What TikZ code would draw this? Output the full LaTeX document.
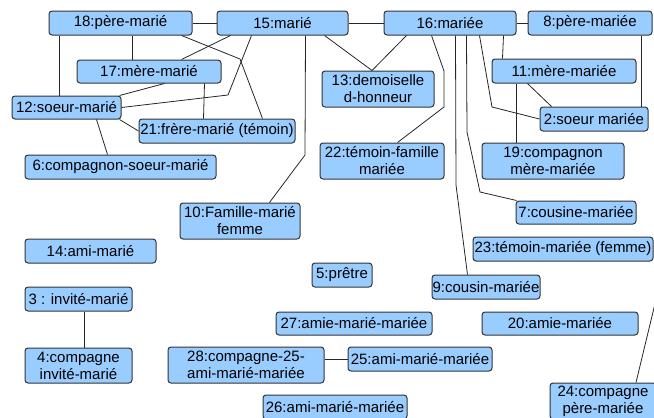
\documentclass[tikz,border=0pt]{standalone}
\usepackage{fontspec}
\setmainfont{Liberation Sans}
\definecolor{boxblue}{RGB}{153,204,255}

\begin{document}
\begin{tikzpicture}[x=1pt, y=-1pt,
    person/.style={rectangle, rounded corners=3pt, draw=black!80, line width=1pt,
      fill=boxblue, inner sep=0pt, align=center,
      font=\fontsize{15}{17}\selectfont, minimum height=24pt},
    tie/.style={draw=black!85, line width=0.8pt}]
  \useasboundingbox (0,0) rectangle (654,418);
  \clip (0,0) rectangle (654,418);

  % family of the groom
  \node[person, minimum width=143pt] (p18) at (120.5,23) {18:père-marié};
  \node[person, minimum width=131pt] (p15) at (282.5,23) {15:marié};
  \node[person, minimum width=144pt, minimum height=23pt] (p17) at (149,71.5) {17:mère-marié};
  \node[person, minimum width=109pt, minimum height=23pt] (p12) at (66.5,107.5) {12:soeur-marié};
  \node[person, minimum width=156pt] (p21) at (217,131) {21:frère-marié (témoin)};
  \node[person, minimum width=191pt] (p6) at (120.5,167) {6:compagnon-soeur-marié};
  \node[person, minimum width=120pt, minimum height=36pt] (p10) at (240,221) {10:Famille-marié\\femme};
  \node[person, minimum width=131pt] (p14) at (90.5,251) {14:ami-marié};
  \node[person, minimum width=107pt] (p3) at (78.5,299) {3 : invité-marié};
  \node[person, minimum width=107pt, minimum height=35pt] (p4) at (78.5,365.5) {4:compagne\\invité-marié};

  % family of the bride
  \node[person, minimum width=132pt] (p16) at (450,23) {16:mariée};
  \node[person, minimum width=124pt] (p8) at (590,23) {8:père-mariée};
  \node[person, minimum width=112pt, minimum height=36pt] (p13) at (378,89) {13:demoiselle\\d-honneur};
  \node[person, minimum width=144pt] (p11) at (564,71) {11:mère-mariée};
  \node[person, minimum width=108pt] (p2) at (594,119) {2:soeur mariée};
  \node[person, minimum width=124pt, minimum height=36pt] (p22) at (382,161) {22:témoin-famille\\mariée};
  \node[person, minimum width=142pt, minimum height=36pt] (p19) at (553,161) {19:compagnon\\mère-mariée};
  \node[person, minimum width=120pt, minimum height=23pt] (p7) at (576,212.5) {7:cousine-mariée};
  \node[person, minimum width=180pt] (p23) at (563,249) {23:témoin-mariée (femme)};
  \node[person, minimum width=108pt] (p9) at (486,287) {9:cousin-mariée};
  \node[person, minimum width=156pt, minimum height=23pt] (p20) at (560,323.5) {20:amie-mariée};
  \node[person, minimum width=106pt, minimum height=36pt] (p24) at (603,401) {24:compagne\\père-mariée};

  % friends
  \node[person, minimum width=60pt] (p5) at (342,275) {5:prêtre};
  \node[person, minimum width=156pt, minimum height=23pt] (p27) at (354,323.5) {27:amie-marié-mariée};
  \node[person, minimum width=156pt, minimum height=36pt] (p28) at (246,365) {28:compagne-25-\\ami-marié-mariée};
  \node[person, minimum width=144pt] (p25) at (420,359) {25:ami-marié-mariée};
  \node[person, minimum width=144pt] (p26) at (335,407) {26:ami-marié-mariée};

  \coordinate (offright) at (680,200);

  % links
  \draw[tie] (p18) -- (p15);
  \draw[tie] (p15) -- (p16);
  \draw[tie] (p16) -- (p8);
  \draw[tie] ([xshift=11pt]p18.south west) -- ([xshift=48pt]p12.north west);
  \draw[tie] ([xshift=84pt]p18.south west) -- ([xshift=56pt]p17.north west);
  \draw[tie] ([xshift=-11pt]p18.south east) -- (240,59) -- ([xshift=124pt]p21.north west);
  \draw[tie] ([xshift=14pt]p15.south west) -- ([xshift=-40pt]p17.north east);
  \draw[tie] ([xshift=35pt]p15.south west) -- (228,95) -- (p12.east);
  \draw[tie] ([xshift=88pt]p17.south west) -- ([xshift=-2pt]p12.north east);
  \draw[tie] ([xshift=-17pt]p17.south east) -- ([xshift=65pt]p21.north west);
  \draw[tie] ([xshift=-2pt]p12.south east) -- (p21.west);
  \draw[tie] ([xshift=85pt]p12.south west) -- ([xshift=83pt]p6.north west);
  \draw[tie] ([xshift=-43pt]p15.south east) -- (305,155) -- ([xshift=90pt]p10.north west);
  \draw[tie] ([xshift=-24pt]p15.south east) -- ([xshift=-6pt]p13.north);
  \draw[tie] ([xshift=23pt]p16.south west) -- ([xshift=-6pt]p13.north);
  \draw[tie] ([xshift=48pt]p16.south west) -- (444,71) -- (444,107) -- ([xshift=-47pt]p22.north east);
  \draw[tie] ([xshift=72pt]p16.south west) -- (456,185) -- ([xshift=36pt]p9.north west);
  \draw[tie] ([xshift=83pt]p16.south west) -- (467,132) -- (480,192) -- ([xshift=1pt]p7.north west);
  \draw[tie] ([xshift=96pt]p16.south west) -- (492,107) -- (p2.west);
  \draw[tie] ([xshift=-13pt]p16.south east) -- ([xshift=11pt]p11.north west);
  \draw[tie] ([xshift=36pt]p11.south west) -- ([xshift=12pt]p2.north west);
  \draw[tie] ([xshift=25pt]p11.south west) -- ([xshift=35pt]p19.north west);
  \draw[tie] ([xshift=-11pt]p8.south east) -- ([xshift=-7pt]p2.north east);
  \draw[tie] ([xshift=5.5pt]p3.south) -- ([xshift=5.5pt]p4.north);
  \draw[tie] (p25.west -| p28.east) -- (p25.west);
  \draw[tie] ([xshift=33pt]p24.north) -- (offright);
\end{tikzpicture}
\end{document}
